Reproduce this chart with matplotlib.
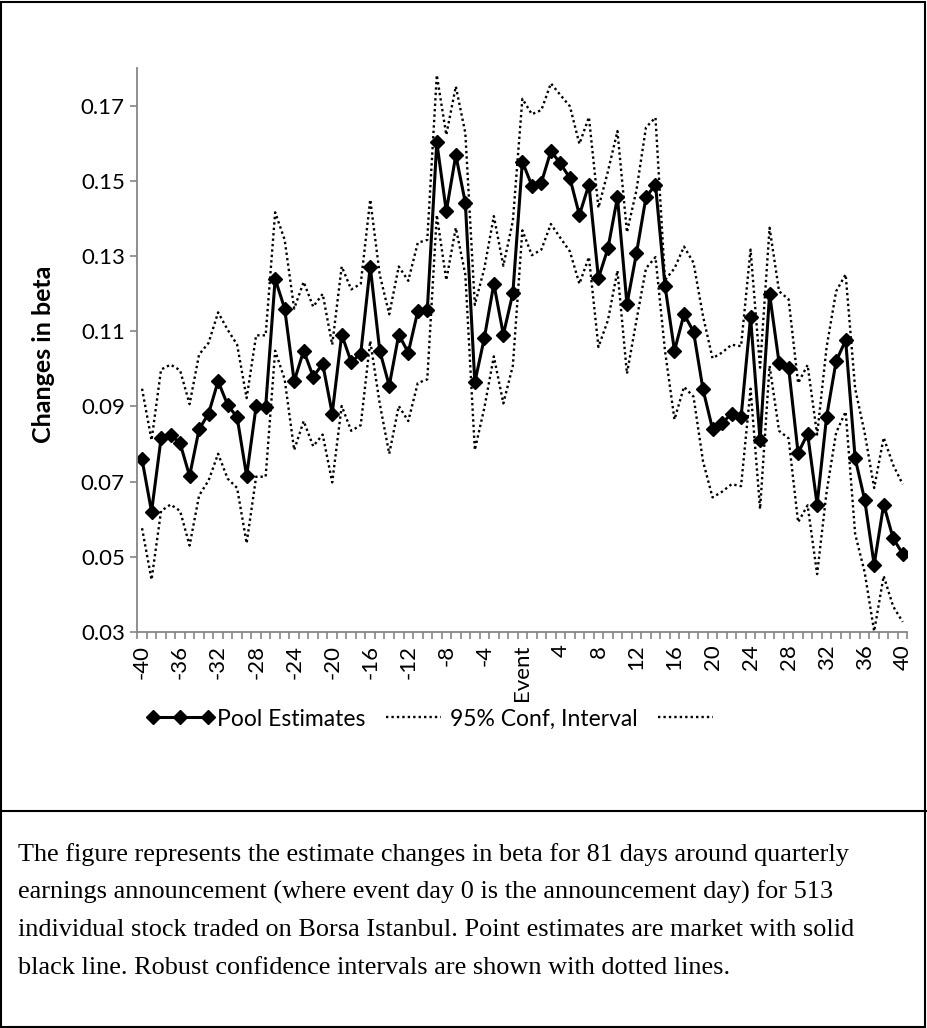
import numpy as np
import matplotlib
matplotlib.use("Agg")
import matplotlib.pyplot as plt
from matplotlib.patches import Rectangle
from matplotlib.lines import Line2D

# event days -40 .. 40
days = list(range(-40, 41))

# pooled point estimates of the change in beta
pool = [0.0759, 0.0620, 0.0815, 0.0825, 0.0802, 0.0715, 0.0839, 0.0881, 0.0967, 0.0904,
        0.0871, 0.0715, 0.0901, 0.0899, 0.1239, 0.1160, 0.0967, 0.1048, 0.0979, 0.1013,
        0.0881, 0.1091, 0.1018, 0.1040, 0.1272, 0.1048, 0.0955, 0.1091, 0.1043, 0.1153,
        0.1155, 0.1602, 0.1419, 0.1568, 0.1442, 0.0964, 0.1082, 0.1226, 0.1091, 0.1201,
        0.1551, 0.1487, 0.1495, 0.1579, 0.1546, 0.1507, 0.1409, 0.1490, 0.1241, 0.1320,
        0.1456, 0.1172, 0.1307, 0.1456, 0.1490, 0.1221, 0.1048, 0.1145, 0.1099, 0.0945,
        0.0840, 0.0855, 0.0881, 0.0871, 0.1137, 0.0810, 0.1199, 0.1016, 0.1003, 0.0776,
        0.0827, 0.0639, 0.0873, 0.1020, 0.1076, 0.0762, 0.0652, 0.0479, 0.0639, 0.0549,
        0.0508]

# upper bound of the 95% interval
upper = [0.0947, 0.0810, 0.0998, 0.1011, 0.0996, 0.0906, 0.1038, 0.1069, 0.1150, 0.1104,
         0.1064, 0.0922, 0.1089, 0.1089, 0.1416, 0.1343, 0.1160, 0.1231, 0.1165, 0.1199,
         0.1064, 0.1272, 0.1211, 0.1226, 0.1450, 0.1250, 0.1145, 0.1272, 0.1234, 0.1335,
         0.1343, 0.1781, 0.1622, 0.1751, 0.1627, 0.1170, 0.1267, 0.1406, 0.1274, 0.1393,
         0.1718, 0.1677, 0.1688, 0.1759, 0.1728, 0.1698, 0.1598, 0.1669, 0.1428, 0.1525,
         0.1632, 0.1363, 0.1475, 0.1642, 0.1668, 0.1236, 0.1267, 0.1325, 0.1282, 0.1140,
         0.1028, 0.1043, 0.1064, 0.1060, 0.1317, 0.1003, 0.1375, 0.1206, 0.1185, 0.0962,
         0.1010, 0.0825, 0.1058, 0.1206, 0.1251, 0.0947, 0.0830, 0.0683, 0.0817, 0.0744,
         0.0693]

# lower bound of the 95% interval
lower = [0.0576, 0.0439, 0.0622, 0.0639, 0.0622, 0.0530, 0.0663, 0.0703, 0.0774, 0.0708,
         0.0683, 0.0536, 0.0713, 0.0713, 0.1048, 0.0972, 0.0784, 0.0861, 0.0794, 0.0825,
         0.0698, 0.0901, 0.0835, 0.0850, 0.1074, 0.0907, 0.0774, 0.0901, 0.0861, 0.0962,
         0.0972, 0.1409, 0.1236, 0.1375, 0.1251, 0.0784, 0.0896, 0.1033, 0.0908, 0.1008,
         0.1368, 0.1302, 0.1317, 0.1385, 0.1348, 0.1312, 0.1226, 0.1297, 0.1058, 0.1129,
         0.1261, 0.0987, 0.1129, 0.1267, 0.1297, 0.1048, 0.0865, 0.0952, 0.0926, 0.0754,
         0.0658, 0.0673, 0.0693, 0.0688, 0.0947, 0.0627, 0.1008, 0.0835, 0.0815, 0.0592,
         0.0637, 0.0454, 0.0673, 0.0830, 0.0886, 0.0561, 0.0459, 0.0302, 0.0449, 0.0368,
         0.0327]

xtick_pos = list(range(-40, 41, 4))
xtick_lab = ["Event" if d == 0 else str(d) for d in xtick_pos]
ytick_pos = [0.03, 0.05, 0.07, 0.09, 0.11, 0.13, 0.15, 0.17]

caption = ["The figure represents the estimate changes in beta for 81 days around quarterly",
           "earnings announcement (where event day 0 is the announcement day) for 513",
           "individual stock traded on Borsa Istanbul. Point estimates are market with solid",
           "black line. Robust confidence intervals are shown with dotted lines."]

plt.rcParams['font.family'] = ['Lato', 'DejaVu Sans']
axcol = '#868686'

fig = plt.figure(figsize=(9.27, 10.28), dpi=100)
ax = fig.add_axes([0.1481, 0.3852, 0.8308, 0.5487])

dot = (0, (1, 1.3))
ax.plot(days, upper, color='black', lw=1.7, ls=dot, label='95% Conf, Interval')
ax.plot(days, lower, color='black', lw=1.7, ls=dot, label=' ')
ax.plot(days, pool, color='black', lw=2.2, marker='D', ms=7, label='Pool Estimates')

ax.set_xlim(-40.5, 40.5)
ax.set_ylim(0.03, 0.18)

ax.set_xticks(xtick_pos)
ax.set_xticklabels(xtick_lab, rotation=90, fontsize=16)
ax.set_xticks(np.arange(-40.5, 41, 1), minor=True)
ax.tick_params(axis='x', which='major', length=0, pad=9)
ax.tick_params(axis='x', which='minor', length=5, color=axcol, width=1.2)

ax.set_yticks(ytick_pos)
ax.set_yticklabels(["%.2f" % v for v in ytick_pos], fontsize=16)
ax.tick_params(axis='y', length=5, color=axcol, width=1.2, pad=4)

for s in ['top', 'right']:
    ax.spines[s].set_visible(False)
for s in ['left', 'bottom']:
    ax.spines[s].set_color(axcol)
    ax.spines[s].set_linewidth(1.3)

fig.text(44 / 927, 1 - 354 / 1028, 'Changes in beta', rotation=90, fontsize=18,
         fontweight='bold', ha='center', va='center')

# legend: pool, upper (labelled), lower (blank)
h, l = ax.get_legend_handles_labels()
order = [2, 0, 1]
fig.legend([h[i] for i in order], [l[i] for i in order], loc='center',
           bbox_to_anchor=(437 / 927, 1 - 719 / 1028), ncol=3, frameon=False,
           fontsize=16.5, numpoints=3, handlelength=3.0, handletextpad=0.1,
           columnspacing=0.6, borderpad=0)

# frame around the figure and caption
fig.patches.append(Rectangle((0.001, 0.001), 0.997, 0.997, transform=fig.transFigure,
                             fill=False, ec='black', lw=1.5))
fig.lines.append(Line2D([0, 1], [1 - 811 / 1028] * 2, transform=fig.transFigure,
                        color='black', lw=1.5))

for i, line in enumerate(caption):
    fig.text(18 / 927, 1 - (861 + 37.7 * i) / 1028, line, family=['Liberation Serif'],
             fontsize=18.9, ha='left', va='baseline')

fig.savefig('out.png', dpi=100)
